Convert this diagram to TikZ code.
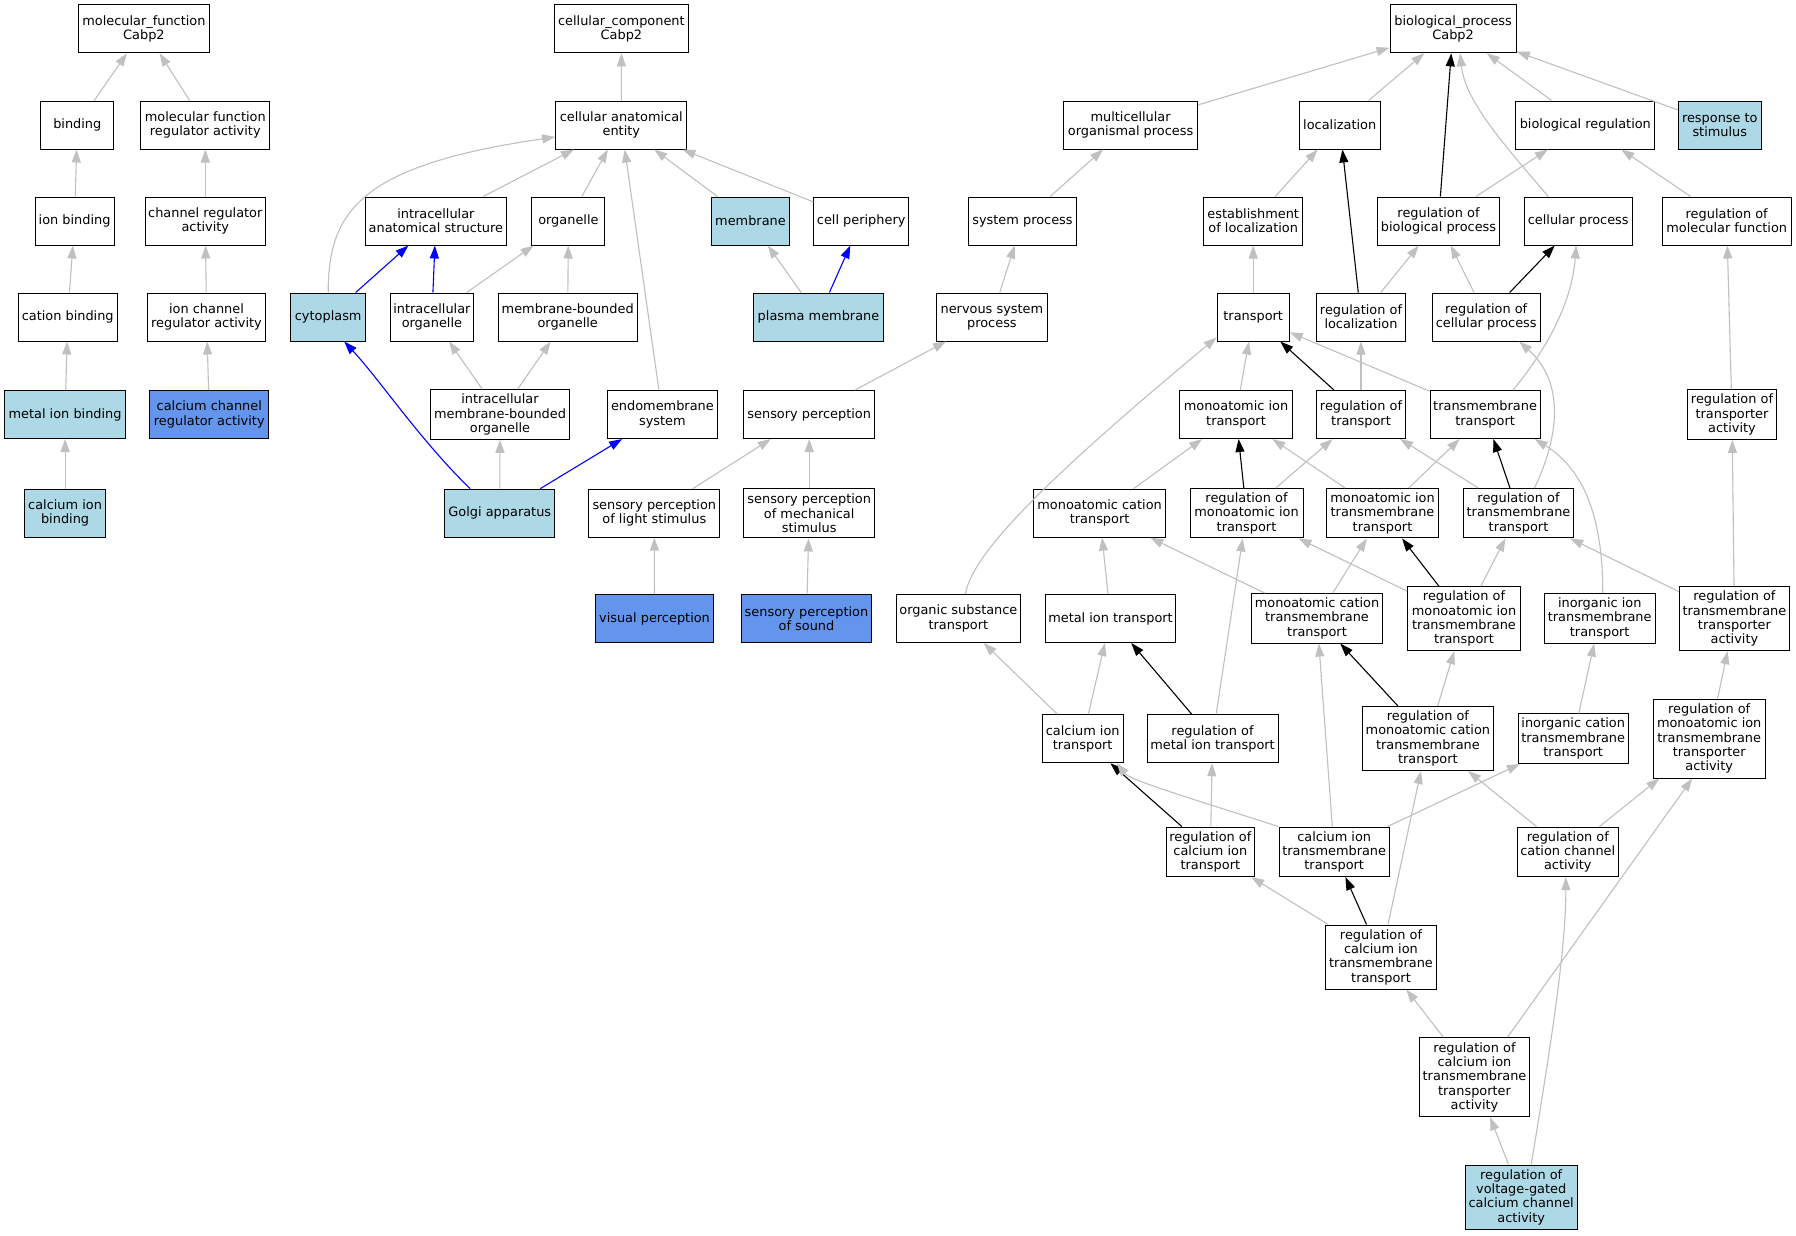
\documentclass[tikz,border=0pt]{standalone}
\usepackage{fontspec}
\setmainfont{DejaVu Sans}
\usetikzlibrary{arrows.meta,calc}
\definecolor{lb}{HTML}{ADD8E6}
\definecolor{cb}{HTML}{6495ED}
\definecolor{eg}{HTML}{C0C0C0}
\begin{document}
\begin{tikzpicture}[x=1pt,y=-1pt,
 box/.style={draw=black,line width=1pt,fill=white,inner sep=0pt,align=center,minimum height=48pt,font=\fontsize{12.9}{14.3}\selectfont},
 h3/.style={minimum height=49.5pt}, h4/.style={minimum height=64pt}, h5/.style={minimum height=79pt},
 lblue/.style={fill=lb}, cblue/.style={fill=cb},
 ge/.style={color=eg,line width=1.1pt,-{Triangle[length=13pt,width=9pt]}},
 ke/.style={color=black,line width=1.1pt,-{Triangle[length=13pt,width=9pt]}},
 be/.style={color=blue,line width=1.1pt,-{Triangle[length=13pt,width=9pt]}}]
\fill[white] (0,0) rectangle (1796,1235);
\useasboundingbox (0,0) rectangle (1796,1235);
% ---------------- molecular function
\node[box,minimum width=131pt] (mf) at (143.9,28.8) {molecular\_function\\Cabp2};
\node[box,minimum width=72.7pt] (bind) at (77.3,125) {binding};
\node[box,minimum width=129pt] (mfra) at (205.3,125) {molecular function\\regulator activity};
\node[box,minimum width=78.8pt] (ionb) at (74.6,221) {ion binding};
\node[box,minimum width=120.6pt] (chra) at (205.3,221) {channel regulator\\activity};
\node[box,minimum width=98.7pt] (catb) at (67.7,317) {cation binding};
\node[box,minimum width=118.3pt] (icra) at (206.5,317) {ion channel\\regulator activity};
\node[box,lblue,minimum width=120.9pt] (mib) at (65.1,414.5) {metal ion binding};
\node[box,cblue,minimum width=118.7pt] (ccra) at (209.3,414.5) {calcium channel\\regulator activity};
\node[box,lblue,minimum width=81.1pt] (cib) at (65.1,513.2) {calcium ion\\binding};
% ---------------- cellular component
\node[box,minimum width=134pt] (cc) at (621.4,28.8) {cellular\_component\\Cabp2};
\node[box,minimum width=131.2pt] (cae) at (621.3,125) {cellular anatomical\\entity};
\node[box,minimum width=141.6pt] (ias) at (435.9,221) {intracellular\\anatomical structure};
\node[box,minimum width=73pt] (org) at (568.4,221) {organelle};
\node[box,lblue,minimum width=77.7pt] (mem) at (750.5,221) {membrane};
\node[box,minimum width=94.6pt] (cper) at (861.2,221) {cell periphery};
\node[box,lblue,minimum width=74.6pt] (cyto) at (328.2,317) {cytoplasm};
\node[box,minimum width=83.8pt] (io) at (431.9,317) {intracellular\\organelle};
\node[box,minimum width=139pt] (mbo) at (567.7,317) {membrane-bounded\\organelle};
\node[box,lblue,minimum width=129.4pt] (pm) at (818.5,317) {plasma membrane};
\node[box,h3,minimum width=139pt] (imbo) at (500,414.5) {intracellular\\membrane-bounded\\organelle};
\node[box,minimum width=109.4pt] (endo) at (662.4,414.5) {endomembrane\\system};
\node[box,lblue,minimum width=110.2pt] (golgi) at (499.8,513.2) {Golgi apparatus};
% ---------------- biological process
\node[box,minimum width=126.2pt] (bp) at (1453.1,28.8) {biological\_process\\Cabp2};
\node[box,minimum width=133.6pt] (mop) at (1130.6,125) {multicellular\\organismal process};
\node[box,minimum width=81pt] (loc) at (1339.7,125) {localization};
\node[box,minimum width=138.7pt] (breg) at (1585.3,125) {biological regulation};
\node[box,lblue,minimum width=83.2pt] (rts) at (1719.8,125) {response to\\stimulus};
\node[box,minimum width=108pt] (sysp) at (1022.5,221) {system process};
\node[box,minimum width=98.8pt] (eloc) at (1253.2,221) {establishment\\of localization};
\node[box,minimum width=122.8pt] (rbp) at (1438.5,221) {regulation of\\biological process};
\node[box,minimum width=108pt] (cp) at (1578.2,221) {cellular process};
\node[box,minimum width=128.9pt] (rmf) at (1726.7,221) {regulation of\\molecular function};
\node[box,minimum width=111pt] (nsp) at (991.9,317) {nervous system\\process};
\node[box,minimum width=72.2pt] (tr) at (1253.2,317) {transport};
\node[box,minimum width=89.3pt] (rloc) at (1361,317) {regulation of\\localization};
\node[box,minimum width=108pt] (rcp) at (1486.2,317) {regulation of\\cellular process};
\node[box,minimum width=131.3pt] (senp) at (809.2,414.5) {sensory perception};
\node[box,minimum width=113pt] (mit) at (1236,414.5) {monoatomic ion\\transport};
\node[box,minimum width=89.3pt] (rt) at (1361,414.5) {regulation of\\transport};
\node[box,minimum width=110.2pt] (tt) at (1485.1,414.5) {transmembrane\\transport};
\node[box,h3,minimum width=88.5pt] (rta) at (1732,414.7) {regulation of\\transporter\\activity};
\node[box,minimum width=131pt] (spl) at (654.3,513.2) {sensory perception\\of light stimulus};
\node[box,h3,minimum width=131.3pt] (spm) at (809.2,513.2) {sensory perception\\of mechanical\\stimulus};
\node[box,minimum width=132pt] (mct) at (1099.6,513.2) {monoatomic cation\\transport};
\node[box,h3,minimum width=113pt] (rmit) at (1246.5,513.2) {regulation of\\monoatomic ion\\transport};
\node[box,h3,minimum width=112.5pt] (mitt) at (1382.5,513.2) {monoatomic ion\\transmembrane\\transport};
\node[box,h3,minimum width=110.2pt] (rtt) at (1518.5,513.2) {regulation of\\transmembrane\\transport};
\node[box,cblue,minimum width=118.2pt] (vp) at (654.5,618.5) {visual perception};
\node[box,cblue,minimum width=130.5pt] (sps) at (806.5,618.5) {sensory perception\\of sound};
\node[box,minimum width=123.4pt] (ost) at (958.4,618.5) {organic substance\\transport};
\node[box,minimum width=130.9pt] (meit) at (1110.5,618.5) {metal ion transport};
\node[box,h3,minimum width=131.5pt] (mctt) at (1317,618.3) {monoatomic cation\\transmembrane\\transport};
\node[box,h4,minimum width=112.9pt] (rmitt) at (1464,618.7) {regulation of\\monoatomic ion\\transmembrane\\transport};
\node[box,h3,minimum width=110.6pt] (iitt) at (1599.7,618.3) {inorganic ion\\transmembrane\\transport};
\node[box,h4,minimum width=110.2pt] (rtta) at (1734.4,618.7) {regulation of\\transmembrane\\transporter\\activity};
\node[box,minimum width=81.1pt] (cit) at (1082.7,738.7) {calcium ion\\transport};
\node[box,minimum width=131pt] (rmeit) at (1212.5,738.7) {regulation of\\metal ion transport};
\node[box,h4,minimum width=131.1pt] (rmctt) at (1427.9,738.5) {regulation of\\monoatomic cation\\transmembrane\\transport};
\node[box,h3,minimum width=110.3pt] (ictt) at (1573.2,738.7) {inorganic cation\\transmembrane\\transport};
\node[box,h5,minimum width=112.1pt] (rmitta) at (1709.2,738.5) {regulation of\\monoatomic ion\\transmembrane\\transporter\\activity};
\node[box,h3,minimum width=88.5pt] (rcit) at (1210.3,851.8) {regulation of\\calcium ion\\transport};
\node[box,h3,minimum width=110.3pt] (citt) at (1334.2,851.8) {calcium ion\\transmembrane\\transport};
\node[box,h3,minimum width=101.5pt] (rcca) at (1567.8,851.8) {regulation of\\cation channel\\activity};
\node[box,h4,minimum width=110.3pt] (rcitt) at (1381,957) {regulation of\\calcium ion\\transmembrane\\transport};
\node[box,h5,minimum width=109.9pt] (rcitta) at (1474.5,1077.2) {regulation of\\calcium ion\\transmembrane\\transporter\\activity};
\node[box,h4,lblue,minimum width=112.3pt] (vgcca) at (1521.2,1197) {regulation of\\voltage-gated\\calcium channel\\activity};
% ---------------- edges: molecular function
\draw[ge] (bind) -- (mf);
\draw[ge] (mfra) -- (mf);
\draw[ge] (ionb) -- (bind);
\draw[ge] (chra) -- (mfra);
\draw[ge] (catb) -- (ionb);
\draw[ge] (icra) -- (chra);
\draw[ge] (mib) -- (catb);
\draw[ge] (ccra) -- (icra);
\draw[ge] (cib) -- (mib);
% ---------------- edges: cellular component
\draw[ge] (cae) -- (cc);
\draw[ge] (ias) -- (cae);
\draw[ge] (org) -- (cae);
\draw[ge] (mem) -- (cae);
\draw[ge] (cper) -- (cae);
\draw[ge] (cyto.north) .. controls (328,210) and (362,165) .. ($(cae.west)+(0,12)$);
\draw[ge] (endo) -- (cae);
\draw[be] (cyto) -- (ias);
\draw[be] (io) -- (ias);
\draw[ge] (io) -- (org);
\draw[ge] (mbo) -- (org);
\draw[ge] (pm) -- (mem);
\draw[be] (pm) -- (cper);
\draw[ge] (imbo) -- (io);
\draw[ge] (imbo) -- (mbo);
\draw[ge] (golgi) -- (imbo);
\draw[be] ($(golgi.north west)+(26,0)$) .. controls (420,440) and (380,380) .. ($(cyto.south)+(16,0)$);
\draw[be] (golgi) -- (endo);
% ---------------- edges: biological process
\draw[ge] (mop) -- (bp);
\draw[ge] (loc) -- (bp);
\draw[ke] (rbp) -- (bp);
\draw[ge] ($(cp.north)+(-30,0)$) .. controls (1500,140) and (1465,100) .. ($(bp.south)+(7,0)$);
\draw[ge] (breg) -- (bp);
\draw[ge] (rts) -- (bp);
\draw[ge] (sysp) -- (mop);
\draw[ge] (eloc) -- (loc);
\draw[ke] (rloc) -- (loc);
\draw[ge] (rbp) -- (breg);
\draw[ge] (rmf) -- (breg);
\draw[ge] (nsp) -- (sysp);
\draw[ge] (tr) -- (eloc);
\draw[ge] (rloc) -- (rbp);
\draw[ge] (rcp) -- (rbp);
\draw[ke] (rcp) -- (cp);
\draw[ge] (senp) -- (nsp);
\draw[ge] (mit) -- (tr);
\draw[ke] (rt) -- (tr);
\draw[ge] (rt) -- (rloc);
\draw[ge] (tt) -- (tr);
\draw[ge] ($(tt.north)+(28,0)$) .. controls (1550,345) and (1572,300) .. ($(cp.south)+(-2,0)$);
\draw[ge] (rta) -- (rmf);
\draw[ge] (spl) -- (senp);
\draw[ge] (spm) -- (senp);
\draw[ge] (mct) -- (mit);
\draw[ke] (rmit) -- (mit);
\draw[ge] (rmit) -- (rt);
\draw[ge] (mitt) -- (mit);
\draw[ge] (mitt) -- (tt);
\draw[ke] (rtt) -- (tt);
\draw[ge] (rtt) -- (rt);
\draw[ge] ($(rtt.north)+(16,0)$) .. controls (1562,430) and (1562,380) .. ($(rcp.south)+(33,0)$);
\draw[ge] (vp) -- (spl);
\draw[ge] (sps) -- (spm);
\draw[ge] ($(ost.north)+(7,0)$) .. controls (972,555) and (1040,484) .. ($(tr.south west)+(0,-4)$);
\draw[ge] (meit) -- (mct);
\draw[ge] (mctt) -- (mct);
\draw[ge] (mctt) -- (mitt);
\draw[ke] (rmitt) -- (mitt);
\draw[ge] (rmitt) -- (rtt);
\draw[ge] (rmitt) -- (rmit);
\draw[ge] ($(iitt.north)+(3,0)$) .. controls (1603,520) and (1585,470) .. ($(tt.south east)+(-6,0)$);
\draw[ge] (rtta) -- (rta);
\draw[ge] (rtta) -- (rtt);
\draw[ge] (cit) -- (ost);
\draw[ge] (cit) -- (meit);
\draw[ke] (rmeit) -- (meit);
\draw[ge] (rmeit) -- (rmit);
\draw[ke] (rmctt) -- (mctt);
\draw[ge] (rmctt) -- (rmitt);
\draw[ge] (ictt) -- (iitt);
\draw[ge] (rmitta) -- (rtta);
\draw[ke] (rcit) -- (cit);
\draw[ge] (rcit) -- (rmeit);
\draw[ge] (citt.north west) .. controls (1180,795) and (1130,780) .. ($(cit.south east)+(-7,0)$);
\draw[ge] (citt) -- (mctt);
\draw[ge] (citt) -- (ictt);
\draw[ge] (rcca) -- (rmctt);
\draw[ge] (rcca) -- (rmitta);
\draw[ge] (rcitt) -- (rcit);
\draw[ke] (rcitt) -- (citt);
\draw[ge] (rcitt) -- (rmctt);
\draw[ge] (rcitta) -- (rcitt);
\draw[ge] ($(rcitta.north)+(33,0)$) -- ($(rmitta.south)+(-17,0)$);
\draw[ge] (vgcca) -- (rcitta);
\draw[ge] ($(vgcca.north)+(10,0)$) .. controls (1550,1050) and (1566,950) .. ($(rcca.south)+(-2,0)$);
\end{tikzpicture}
\end{document}
